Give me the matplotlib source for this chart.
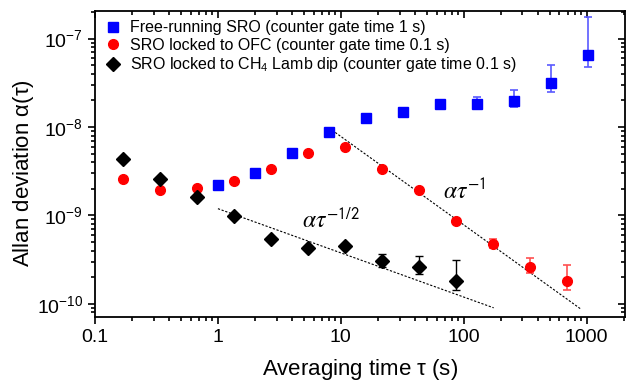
import numpy as np
import matplotlib
matplotlib.use("Agg")
import matplotlib.pyplot as plt
from matplotlib.ticker import FixedLocator, LogLocator, NullFormatter, FixedFormatter
from matplotlib.lines import Line2D, TICKDOWN, TICKLEFT

plt.rcParams['font.family'] = ['Liberation Sans', 'DejaVu Sans']
plt.rcParams['mathtext.fontset'] = 'custom'
plt.rcParams['mathtext.rm'] = 'Liberation Sans'
plt.rcParams['mathtext.it'] = 'Liberation Sans:italic'

# Free-running SRO
tau_free = [1, 2, 4, 8, 16, 32, 64, 128, 256, 512, 1024]
adev_free = [2.2e-9, 3.0e-9, 5.1e-9, 8.7e-9, 1.25e-8, 1.48e-8, 1.83e-8, 1.82e-8, 1.98e-8, 3.14e-8, 6.5e-8]
free_lo = [np.nan] * 7 + [1.63e-8, 1.67e-8, 2.46e-8, 4.73e-8]
free_hi = [np.nan] * 7 + [2.17e-8, 2.62e-8, 4.98e-8, 1.76e-7]

# SRO locked to OFC
tau_ofc = [0.17, 0.34, 0.68, 1.36, 2.72, 5.44, 10.9, 21.8, 43.5, 87, 174, 348, 696]
adev_ofc = [2.58e-9, 1.96e-9, 2.03e-9, 2.45e-9, 3.38e-9, 5.09e-9, 6.0e-9, 3.33e-9, 1.96e-9,
            8.7e-10, 4.73e-10, 2.6e-10, 1.83e-10]
ofc_lo = [np.nan] * 10 + [4.26e-10, 2.22e-10, 1.44e-10]
ofc_hi = [np.nan] * 10 + [5.47e-10, 3.28e-10, 2.71e-10]

# SRO locked to CH4 Lamb dip
tau_ch4 = [0.17, 0.34, 0.68, 1.36, 2.72, 5.44, 10.9, 21.8, 43.5, 87]
adev_ch4 = [4.38e-9, 2.56e-9, 1.61e-9, 9.86e-10, 5.47e-10, 4.26e-10, 4.52e-10, 3.08e-10, 2.6e-10, 1.83e-10]
ch4_lo = [np.nan] * 7 + [2.6e-10, 2.18e-10, 1.44e-10]
ch4_hi = [np.nan] * 7 + [3.67e-10, 3.46e-10, 3.12e-10]

# fit lines
fit1_alpha, fit1_range = 7.8e-8, (9, 900)      # alpha * tau^-1
fit2_alpha, fit2_range = 1.19e-9, (1, 175)     # alpha * tau^-1/2

labels = ['Free-running SRO (counter gate time 1 s)',
          'SRO locked to OFC (counter gate time 0.1 s)',
          r'SRO locked to CH$_4$ Lamb dip (counter gate time 0.1 s)']

xticks = [0.1, 1, 10, 100, 1000]
xticklabels = ['0.1', '1', '10', '100', '1000']
yticks = [1e-10, 1e-9, 1e-8, 1e-7]
yticklabels = [r'$\mathregular{10^{-10}}$', r'$\mathregular{10^{-9}}$',
               r'$\mathregular{10^{-8}}$', r'$\mathregular{10^{-7}}$']


def errs(vals, lo, hi):
    v = np.array(vals)
    l = np.nan_to_num(v - np.array(lo), nan=0.0)
    h = np.nan_to_num(np.array(hi) - v, nan=0.0)
    return [l, h]


fig = plt.figure(figsize=(6.27, 3.86), dpi=100)
ax = fig.add_axes([0.1515, 0.179, 0.845, 0.793])
ax.set_xscale('log')
ax.set_yscale('log')

# fit lines
t1 = np.logspace(np.log10(fit1_range[0]), np.log10(fit1_range[1]), 50)
ax.plot(t1, fit1_alpha / t1, ls=(0, (2, 1.5)), color='black', lw=0.8, zorder=1)
t2 = np.logspace(np.log10(fit2_range[0]), np.log10(fit2_range[1]), 50)
ax.plot(t2, fit2_alpha / np.sqrt(t2), ls=(0, (2, 1.5)), color='black', lw=0.8, zorder=1)

specs = [
    (tau_free, adev_free, free_lo, free_hi, 's', '#0000ff', '#5a5aff', 1.2),
    (tau_ofc, adev_ofc, ofc_lo, ofc_hi, 'o', '#ff0000', '#ff5050', 1.2),
    (tau_ch4, adev_ch4, ch4_lo, ch4_hi, 'D', 'black', 'black', 1.0),
]
handles = []
for (t, a, lo, hi, m, c, ec, lw), lab in zip(specs, labels):
    ax.errorbar(t, a, yerr=errs(a, lo, hi), fmt=m, color=c, ms=7, ecolor=ec,
                elinewidth=lw, capsize=3, capthick=lw, zorder=3)
    handles.append(Line2D([], [], marker=m, color=c, ls='none', ms=7, label=lab))

ax.text(67.5, 1.53e-9, r'$\alpha\tau^{\mathsf{-1}}$', fontsize=17, math_fontfamily='stix', va='baseline')
ax.text(4.82, 7.2e-10, r'$\alpha\tau^{\mathsf{-1/2}}$', fontsize=17, math_fontfamily='stix', va='baseline')

ax.set_xlim(0.1, 2040)
ax.set_ylim(7.1e-11, 2.06e-7)

ax.xaxis.set_major_locator(FixedLocator(xticks))
ax.xaxis.set_major_formatter(FixedFormatter(xticklabels))
ax.xaxis.set_minor_locator(LogLocator(base=10, subs=np.arange(2, 10), numticks=20))
ax.xaxis.set_minor_formatter(NullFormatter())
ax.yaxis.set_major_locator(FixedLocator(yticks))
ax.yaxis.set_major_formatter(FixedFormatter(yticklabels))
ax.yaxis.set_minor_locator(LogLocator(base=10, subs=np.arange(2, 10), numticks=20))
ax.yaxis.set_minor_formatter(NullFormatter())

ax.tick_params(which='both', direction='out', labelsize=14, width=1.2)
ax.tick_params(which='major', length=5)
ax.tick_params(which='minor', length=3)
ax.tick_params(which='both', top=True, right=True, labeltop=False, labelright=False)
for tk in ax.xaxis.get_major_ticks() + ax.xaxis.get_minor_ticks():
    tk.tick2line.set_marker(TICKDOWN)
for tk in ax.yaxis.get_major_ticks() + ax.yaxis.get_minor_ticks():
    tk.tick2line.set_marker(TICKLEFT)

for s in ax.spines.values():
    s.set_linewidth(1.3)

ax.set_xlabel(r'Averaging time $\mathregular{\tau}$ (s)', fontsize=16, labelpad=8)
ax.set_ylabel(r'Allan deviation $\mathregular{\alpha(\tau)}$', fontsize=16)
ax.yaxis.set_label_coords(-0.112, 0.47)

ax.legend(handles=handles, loc='upper left', frameon=False, fontsize=11.5, numpoints=1,
          handlelength=1.0, handletextpad=0.6, borderaxespad=0.25, labelspacing=0.15,
          borderpad=0.35)

fig.savefig('out.png', dpi=100)
